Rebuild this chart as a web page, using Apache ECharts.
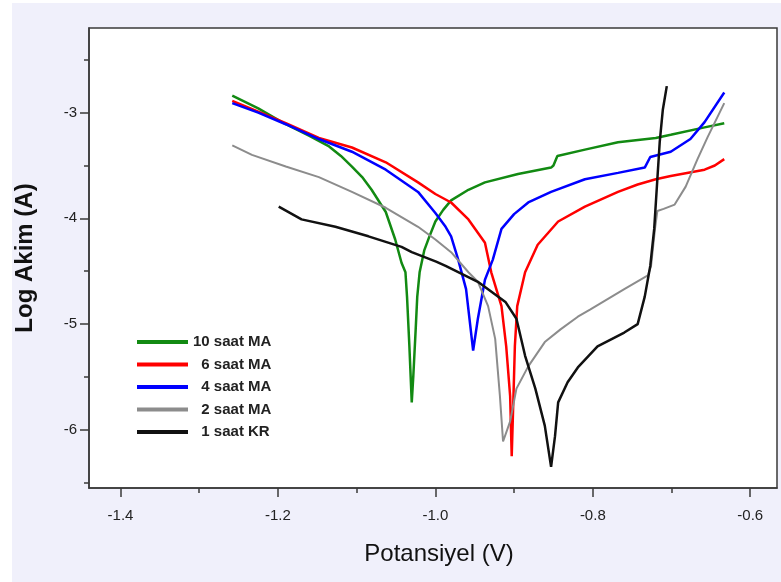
<!DOCTYPE html>
<html>
<head>
<meta charset="utf-8">
<script src="https://cdn.jsdelivr.net/npm/echarts@6/dist/echarts.min.js"></script>
<style>
    html, body { margin: 0; padding: 0; background: #ffffff; }
    #bg { position: absolute; left: 12px; top: 3px; width: 769px; height: 579px; background: #f0f0fb; }
    #chart { position: absolute; left: 0; top: 0; width: 781px; height: 582px; }
</style>
</head>
<body>
<div id="bg"></div>
<div id="chart"></div>
<script>
    // [potential V, log current]
    var green10 = [[-1.258,-2.84],[-1.225,-2.96],[-1.190,-3.11],[-1.160,-3.22],[-1.135,-3.32],[-1.120,-3.41],[-1.106,-3.51],[-1.093,-3.61],[-1.081,-3.73],[-1.063,-3.94],[-1.051,-4.20],[-1.043,-4.42],[-1.038,-4.51],[-1.036,-4.74],[-1.033,-5.21],[-1.030,-5.74],[-1.028,-5.49],[-1.025,-5.05],[-1.023,-4.74],[-1.020,-4.51],[-1.014,-4.30],[-1.008,-4.18],[-1.000,-4.03],[-0.990,-3.92],[-0.980,-3.83],[-0.958,-3.73],[-0.937,-3.66],[-0.895,-3.58],[-0.853,-3.52],[-0.850,-3.50],[-0.845,-3.41],[-0.810,-3.35],[-0.768,-3.28],[-0.720,-3.24],[-0.701,-3.21],[-0.658,-3.14],[-0.633,-3.10]];
    var red6 = [[-1.258,-2.89],[-1.225,-2.99],[-1.190,-3.10],[-1.148,-3.24],[-1.106,-3.33],[-1.063,-3.47],[-1.022,-3.66],[-1.000,-3.77],[-0.980,-3.85],[-0.958,-4.01],[-0.937,-4.23],[-0.929,-4.51],[-0.916,-4.83],[-0.910,-5.21],[-0.905,-5.68],[-0.903,-6.25],[-0.901,-5.74],[-0.899,-5.21],[-0.896,-4.83],[-0.886,-4.51],[-0.870,-4.25],[-0.844,-4.03],[-0.810,-3.89],[-0.768,-3.75],[-0.743,-3.68],[-0.720,-3.63],[-0.701,-3.60],[-0.658,-3.54],[-0.645,-3.50],[-0.633,-3.44]];
    var blue4 = [[-1.258,-2.91],[-1.225,-3.00],[-1.190,-3.11],[-1.148,-3.25],[-1.106,-3.37],[-1.063,-3.54],[-1.022,-3.75],[-1.000,-3.95],[-0.987,-4.08],[-0.980,-4.17],[-0.971,-4.39],[-0.961,-4.67],[-0.952,-5.25],[-0.946,-4.95],[-0.937,-4.58],[-0.927,-4.39],[-0.916,-4.10],[-0.900,-3.96],[-0.882,-3.85],[-0.853,-3.75],[-0.810,-3.63],[-0.768,-3.57],[-0.734,-3.52],[-0.727,-3.42],[-0.701,-3.37],[-0.676,-3.25],[-0.658,-3.09],[-0.633,-2.81]];
    var gray2 = [[-1.258,-3.31],[-1.233,-3.40],[-1.190,-3.51],[-1.148,-3.61],[-1.106,-3.75],[-1.063,-3.90],[-1.022,-4.08],[-1.000,-4.20],[-0.980,-4.32],[-0.958,-4.51],[-0.946,-4.60],[-0.933,-4.83],[-0.924,-5.14],[-0.918,-5.68],[-0.914,-6.11],[-0.905,-5.92],[-0.897,-5.61],[-0.882,-5.40],[-0.861,-5.17],[-0.841,-5.05],[-0.819,-4.93],[-0.803,-4.86],[-0.760,-4.67],[-0.730,-4.54],[-0.726,-4.45],[-0.721,-4.10],[-0.718,-3.93],[-0.710,-3.91],[-0.696,-3.87],[-0.682,-3.70],[-0.667,-3.44],[-0.654,-3.23],[-0.633,-2.91]];
    var black1 = [[-1.199,-3.89],[-1.170,-4.01],[-1.127,-4.08],[-1.085,-4.17],[-1.043,-4.27],[-1.030,-4.32],[-0.999,-4.41],[-0.987,-4.45],[-0.946,-4.60],[-0.911,-4.79],[-0.897,-4.95],[-0.886,-5.30],[-0.873,-5.61],[-0.861,-5.96],[-0.853,-6.35],[-0.848,-6.06],[-0.844,-5.74],[-0.832,-5.55],[-0.819,-5.41],[-0.794,-5.21],[-0.760,-5.08],[-0.743,-5.00],[-0.734,-4.74],[-0.727,-4.45],[-0.722,-4.10],[-0.718,-3.63],[-0.715,-3.28],[-0.711,-2.97],[-0.706,-2.75]];

    var xMajor = [-1.4, -1.2, -1.0, -0.8, -0.6];
    var xMinor = [-1.3, -1.1, -0.9, -0.7];
    var yMajor = [-6, -5, -4, -3];
    var yMinor = [-6.5, -5.5, -4.5, -3.5, -2.5];

    var names = ['10 saat MA', '\u20076 saat MA', '\u20074 saat MA', '\u20072 saat MA', '\u20071 saat KR'];
    var colors = ['#128a12', '#ff0000', '#0000ff', '#8c8c8c', '#111111'];
    var lists = [green10, red6, blue4, gray2, black1];

    var axisColor = '#3a3a3a';
    var labelStyle = { color: '#222', fontSize: 15, fontFamily: 'Liberation Sans' };

    function xAxisOf(ticks, len, main) {
        return {
            type: 'value', position: 'bottom', min: -1.44, max: -0.566,
            name: main ? 'Potansiyel (V)' : '',
            nameLocation: 'middle', nameGap: 54,
            nameTextStyle: { fontSize: 24, color: '#111', fontFamily: 'Liberation Sans', padding: [0, 0, 0, 12] },
            splitLine: { show: false },
            axisLine: { show: main, lineStyle: { color: axisColor, width: 1.5 } },
            axisTick: { show: true, inside: false, length: len, customValues: ticks, lineStyle: { color: axisColor, width: 1.5 } },
            axisLabel: main ? Object.assign({ customValues: xMajor, margin: 20, formatter: function (v) { return v.toFixed(1); } }, labelStyle) : { show: false }
        };
    }
    function yAxisOf(ticks, len, main) {
        return {
            type: 'value', position: 'left', min: -6.55, max: -2.2,
            name: main ? 'Log Akim (A)' : '',
            nameLocation: 'middle', nameGap: 52,
            nameTextStyle: { fontSize: 24, fontWeight: 'bold', color: '#111', fontFamily: 'Liberation Sans' },
            splitLine: { show: false },
            axisLine: { show: main, lineStyle: { color: axisColor, width: 1.5 } },
            axisTick: { show: true, inside: false, length: len, customValues: ticks, lineStyle: { color: axisColor, width: 1.5 } },
            axisLabel: main ? Object.assign({ customValues: yMajor, margin: 12 }, labelStyle) : { show: false }
        };
    }

    var chart = echarts.init(document.getElementById('chart'));
    var options = {
        backgroundColor: 'transparent',
        animation: false,
        grid: {
            left: 89, right: 4, top: 28, bottom: 94,
            show: true, backgroundColor: '#ffffff', borderColor: axisColor, borderWidth: 1.5
        },
        legend: {
            orient: 'vertical', left: 132, top: 329,
            itemWidth: 51, itemHeight: 4, itemGap: 6.5, icon: 'rect',
            data: names,
            textStyle: { fontSize: 15, fontWeight: 'bold', color: '#222', fontFamily: 'Liberation Sans', lineHeight: 16, padding: [0, 0, 0, 0] }
        },
        xAxis: [xAxisOf(xMajor, 9, true), xAxisOf(xMinor, 5, false)],
        yAxis: [yAxisOf(yMajor, 9, true), yAxisOf(yMinor, 5, false)],
        series: lists.map(function (d, i) {
            return {
                name: names[i], type: 'line', data: d,
                xAxisIndex: 0, yAxisIndex: 0,
                showSymbol: false, symbol: 'none',
                lineStyle: { color: colors[i], width: i === 3 ? 2 : 2.5 },
                itemStyle: { color: colors[i] }
            };
        })
    };
    chart.setOption(options);
</script>
</body>
</html>
